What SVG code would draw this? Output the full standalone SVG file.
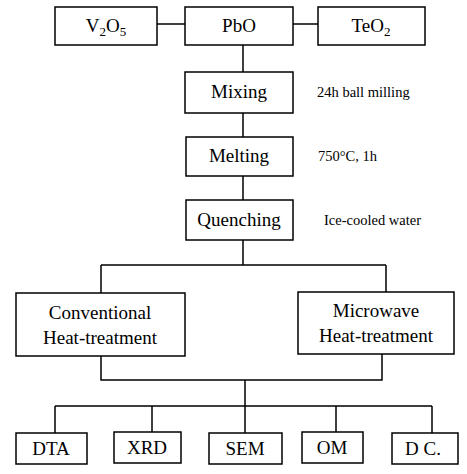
<svg xmlns="http://www.w3.org/2000/svg" width="467" height="474" viewBox="0 0 467 474">
<style>
.b{fill:#fff;stroke:#000;stroke-width:1.5}
.t{font-family:'Liberation Serif','DejaVu Serif','Times New Roman',serif;font-size:19px;fill:#000;text-anchor:middle}
.s{font-family:'Liberation Serif','DejaVu Serif','Times New Roman',serif;font-size:14.5px;fill:#000}
.c{fill:none;stroke:#000;stroke-width:1.5}
</style>
<rect width="467" height="474" fill="#fff"/>
<g id="connectors">
<path class="c" d="M157 24H185M293 24H318M243 45V72M243 113V137M243 176V200M243 240V265M101 265H386M101 265V293M386 265V292M101 356V380H382V354M245 380V406M55 406H432M55 406V433M152 406V433M245 406V433M336 406V433M432 406V433"/>
</g>
<g id="v2o5"><rect class="b" x="55" y="7" width="102" height="38"/><text class="t" x="106" y="32">V<tspan font-size="13" dy="4">2</tspan><tspan dy="-4">O</tspan><tspan font-size="13" dy="4">5</tspan></text></g>
<g id="pbo"><rect class="b" x="185" y="7" width="108" height="38"/><text class="t" x="239" y="32">PbO</text></g>
<g id="teo2"><rect class="b" x="318" y="7" width="107" height="38"/><text class="t" x="371" y="32">TeO<tspan font-size="13" dy="4">2</tspan></text></g>
<g id="mixing"><rect class="b" x="185" y="72" width="108" height="41"/><text class="t" x="239" y="98">Mixing</text><text class="s" x="317" y="97">24h ball milling</text></g>
<g id="melting"><rect class="b" x="186" y="137" width="107" height="39"/><text class="t" x="239" y="162">Melting</text><text class="s" x="318" y="161">750°C, 1h</text></g>
<g id="quenching"><rect class="b" x="186" y="200" width="107" height="40"/><text class="t" x="239" y="226">Quenching</text><text class="s" x="324" y="225">Ice-cooled water</text></g>
<g id="conventional"><rect class="b" x="16" y="293" width="169" height="63"/><text class="t" x="100" y="319">Conventional</text><text class="t" x="100" y="344">Heat-treatment</text></g>
<g id="microwave"><rect class="b" x="298" y="292" width="156" height="62"/><text class="t" x="376" y="317">Microwave</text><text class="t" x="376" y="342">Heat-treatment</text></g>
<g id="dta"><rect class="b" x="16" y="433" width="71" height="31"/><text class="t" x="51" y="455">DTA</text></g>
<g id="xrd"><rect class="b" x="114" y="432" width="67" height="31"/><text class="t" x="147" y="454">XRD</text></g>
<g id="sem"><rect class="b" x="209" y="433" width="73" height="31"/><text class="t" x="245" y="455">SEM</text></g>
<g id="om"><rect class="b" x="302" y="432" width="61" height="31"/><text class="t" x="332" y="454">OM</text></g>
<g id="dc"><rect class="b" x="392" y="433" width="66" height="31"/><text class="t" x="423" y="455">D C.</text></g>
</svg>
